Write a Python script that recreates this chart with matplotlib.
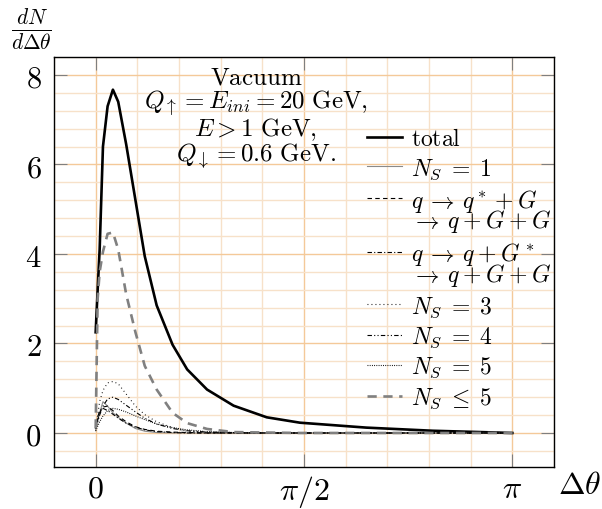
import numpy as np
import matplotlib
matplotlib.use("Agg")
import matplotlib.pyplot as plt
from matplotlib.ticker import FixedLocator, MultipleLocator
from matplotlib.legend_handler import HandlerLine2D

plt.rcParams["mathtext.fontset"] = "cm"
plt.rcParams["font.family"] = ["DejaVu Serif"]

# angular separation (rad) at which the distributions are sampled
dtheta = [0.00, 0.015, 0.03, 0.055, 0.09, 0.13, 0.17, 0.23, 0.30, 0.37,
          0.46, 0.58, 0.69, 0.84, 1.04, 1.29, 1.54, 2.04, 2.54, np.pi]

total = [2.25, 3.2, 4.1, 6.4, 7.3, 7.67, 7.4, 6.45, 5.2, 3.95,
         2.85, 1.97, 1.42, 0.97, 0.61, 0.35, 0.23, 0.12, 0.05, 0.0]
ns1 = [0.05, 0.25, 0.45, 0.70, 0.60, 0.45, 0.35, 0.22, 0.10, 0.04,
       0.01, 0.0, 0.0, 0.0, 0.0, 0.0, 0.0, 0.0, 0.0, 0.0]
q_qstar = [0.10, 0.30, 0.45, 0.58, 0.60, 0.50, 0.38, 0.25, 0.14, 0.08,
           0.04, 0.02, 0.01, 0.0, 0.0, 0.0, 0.0, 0.0, 0.0, 0.0]
q_gstar = [0.15, 0.35, 0.50, 0.55, 0.50, 0.42, 0.33, 0.22, 0.13, 0.07,
           0.03, 0.01, 0.0, 0.0, 0.0, 0.0, 0.0, 0.0, 0.0, 0.0]
ns3 = [0.10, 0.40, 0.70, 0.95, 1.12, 1.15, 1.10, 0.87, 0.60, 0.41,
       0.25, 0.12, 0.04, 0.01, 0.0, 0.0, 0.0, 0.0, 0.0, 0.0]
ns4 = [0.10, 0.25, 0.40, 0.60, 0.76, 0.80, 0.75, 0.62, 0.47, 0.33,
       0.20, 0.10, 0.05, 0.02, 0.01, 0.0, 0.0, 0.0, 0.0, 0.0]
ns5 = [0.05, 0.15, 0.25, 0.38, 0.50, 0.55, 0.53, 0.47, 0.38, 0.30,
       0.20, 0.12, 0.07, 0.03, 0.01, 0.0, 0.0, 0.0, 0.0, 0.0]
ns_le5 = [0.10, 3.0, 3.6, 4.05, 4.45, 4.48, 4.1, 3.1, 2.25, 1.5,
          0.97, 0.45, 0.22, 0.09, 0.02, 0.01, 0.0, 0.0, 0.0, 0.0]

x_ticks = [0, np.pi / 2, np.pi]
x_ticklabels = [r"$0$", r"$\pi/2$", r"$\pi$"]
y_ticks = [0, 2, 4, 6, 8]

labels = [
    r"$\mathrm{total}$",
    r"$N_S\;=\;1$",
    "$q\\:\\rightarrow\\:q^*\\:+\\:G$\n${\\rightarrow}\\:q\\:+\\:G\\:+\\:G$",
    "$q\\:\\rightarrow\\:q\\:+\\:G^*$\n${\\rightarrow}\\:q\\:+\\:G\\:+\\:G$",
    r"$N_S\;=\;3$",
    r"$N_S\;=\;4$",
    r"$N_S\;=\;5$",
    r"$N_S\;\leq\;5$",
]

info = ("$\\mathrm{Vacuum}$\n"
        "$Q_{\\uparrow}=E_{ini}=20\\ \\mathrm{GeV},$\n"
        "$E>1\\ \\mathrm{GeV},$\n"
        "$Q_{\\downarrow}=0.6\\ \\mathrm{GeV}.$")

fig = plt.figure(figsize=(6.02, 5.10), dpi=100)
ax = fig.add_axes([54 / 602, 1 - 468 / 510, 500 / 602, 410 / 510])

ax.set_xlim(-0.1 * np.pi, 1.1 * np.pi)
ax.set_ylim(-0.76, 8.4)

# grid: minor every pi/10 and 0.4, major on ticks
ax.xaxis.set_major_locator(FixedLocator(x_ticks))
ax.xaxis.set_minor_locator(FixedLocator([k * np.pi / 10 for k in range(-1, 12)]))
ax.yaxis.set_major_locator(FixedLocator(y_ticks))
ax.yaxis.set_minor_locator(MultipleLocator(0.4))
ax.grid(which="minor", color="#f7e1c9", lw=1.0)
ax.grid(which="major", color="#f4c999", lw=1.0)
ax.set_axisbelow(True)

ax.set_xticklabels(x_ticklabels, fontsize=23)
ax.set_yticklabels([f"${v}$" for v in y_ticks], fontsize=22)
ax.tick_params(which="major", direction="in", length=9.5, width=0.8,
               color="#7f7f7f", top=True, right=True)
ax.tick_params(axis="x", pad=4)
ax.tick_params(axis="y", pad=9)
ax.tick_params(which="minor", length=0)

for s in ax.spines.values():
    s.set_linewidth(1.0)
    s.set_color("black")

l_total, = ax.plot(dtheta, total, color="black", lw=1.9)
l_ns1, = ax.plot(dtheta, ns1, color="#8a8a8a", lw=0.8)
l_qs, = ax.plot(dtheta, q_qstar, color="black", lw=0.8, dashes=(4, 3))
l_gs, = ax.plot(dtheta, q_gstar, color="black", lw=0.8, dashes=(4, 2, 1, 2))
l_3, = ax.plot(dtheta, ns3, color="black", lw=0.8, dashes=(0.8, 2.8))
l_4, = ax.plot(dtheta, ns4, color="black", lw=0.8, dashes=(4, 2, 1, 2, 1, 2))
l_5, = ax.plot(dtheta, ns5, color="black", lw=0.8, dashes=(0.8, 1.2))
l_le5, = ax.plot(dtheta, ns_le5, color="#808080", lw=1.9, dashes=(3.5, 2.5))

handles = [l_total, l_ns1, l_qs, l_gs, l_3, l_4, l_5, l_le5]


class TopHandler(HandlerLine2D):
    """Place the handle next to the first line of a two-line label."""

    def create_artists(self, legend, orig_handle, xdescent, ydescent,
                       width, height, fontsize, trans):
        return super().create_artists(legend, orig_handle, xdescent,
                                      ydescent - 19, width, height,
                                      fontsize, trans)


leg = ax.legend(handles, labels, loc="upper left",
                bbox_to_anchor=(0.608, 0.852), frameon=False,
                fontsize=17, handlelength=1.45, handletextpad=0.38,
                labelspacing=0.26, borderaxespad=0,
                handler_map={l_qs: TopHandler(), l_gs: TopHandler()})
for t in leg.get_texts():
    t.set_linespacing(0.68)

ax.text(0.404, 0.98, info, transform=ax.transAxes, ha="center", va="top",
        multialignment="center", fontsize=18, linespacing=0.95)

fig.text(31 / 602, 1 - 30 / 510, r"$\frac{dN}{d\Delta\theta}$",
         ha="center", va="center", fontsize=22)
fig.text(580 / 602, 1 - 486 / 510, r"$\Delta\theta$",
         ha="center", va="center", fontsize=23)

fig.savefig("out.png", dpi=100)
